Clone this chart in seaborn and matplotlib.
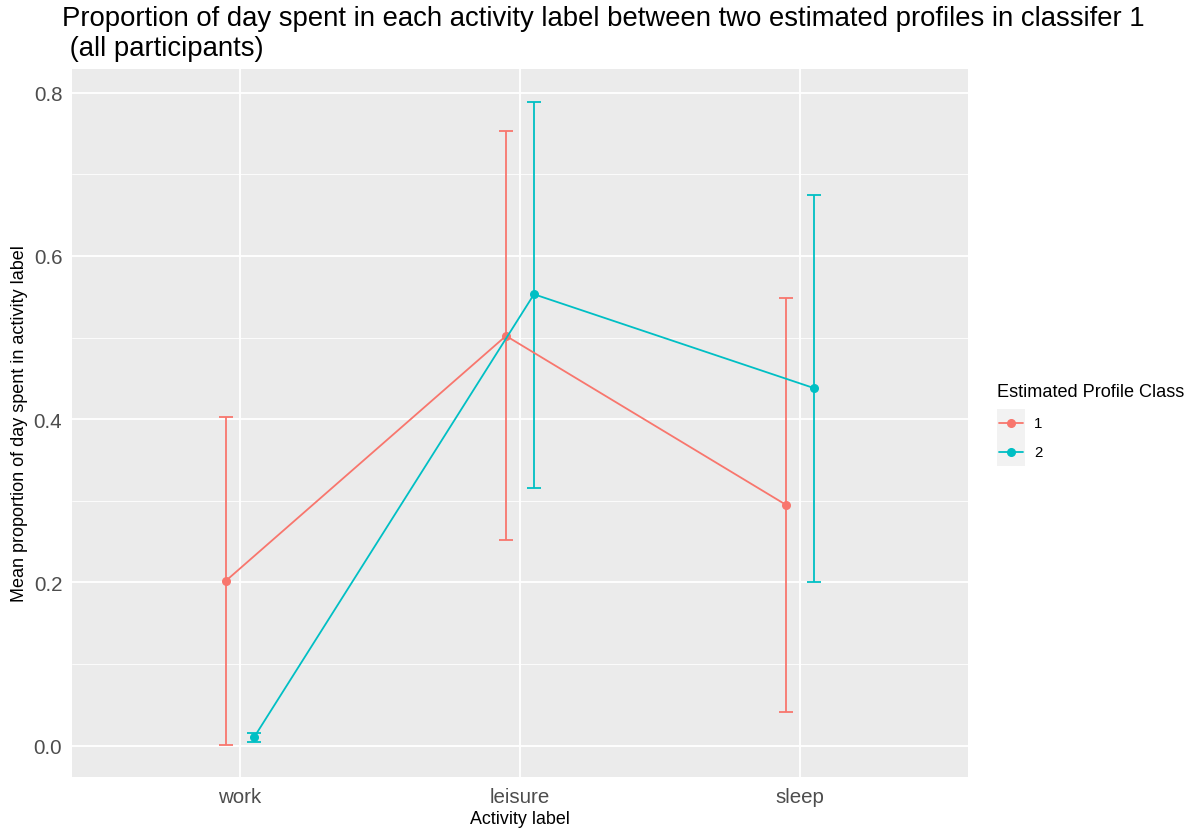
import numpy as np
import pandas as pd
import matplotlib
matplotlib.use("Agg")
import matplotlib.pyplot as plt
from matplotlib.patches import Rectangle
from matplotlib.lines import Line2D
from matplotlib.ticker import MultipleLocator
import seaborn as sns

activities = ["work", "leisure", "sleep"]
classes = ["1", "2"]
mean_c1 = [0.202, 0.502, 0.295]
low_c1 = [0.001, 0.252, 0.041]
high_c1 = [0.403, 0.753, 0.549]
mean_c2 = [0.010, 0.553, 0.438]
low_c2 = [0.004, 0.316, 0.201]
high_c2 = [0.016, 0.789, 0.675]
colors = ["#F8766D", "#00BFC4"]

df = pd.DataFrame({
    "activity": activities * 2,
    "cls": ["1"] * 3 + ["2"] * 3,
    "mean": mean_c1 + mean_c2,
    "lo": low_c1 + low_c2,
    "hi": high_c1 + high_c2,
})

sns.set_theme(style="darkgrid")
plt.rcParams["font.family"] = ["Liberation Sans", "DejaVu Sans"]

fig = plt.figure(figsize=(11.94, 8.29), dpi=100)
ax = fig.add_axes([72 / 1194, 1 - 778 / 829, 896 / 1194, 708 / 829])
ax.set_facecolor("#EBEBEB")

sns.pointplot(data=df, x="activity", y="mean", hue="cls", order=activities,
              hue_order=classes, palette=colors, dodge=0.1, errorbar=None,
              markers="o", linestyles="-", markersize=5.5, linewidth=1.3,
              ax=ax, legend=False, zorder=3)

lines = [l for l in ax.lines if len(l.get_xdata()) == 3]
for line, cls, col in zip(lines, classes, colors):
    sub = df[df["cls"] == cls]
    xs = np.asarray(line.get_xdata(), dtype=float)
    ax.errorbar(xs, sub["mean"].values,
                yerr=[sub["mean"].values - sub["lo"].values, sub["hi"].values - sub["mean"].values],
                fmt="none", ecolor=col, elinewidth=1.3, capsize=5, capthick=1.3, zorder=2)

ax.set_xlim(-0.6, 2.6)
ax.set_ylim(-0.0385, 0.829)
ax.yaxis.set_major_locator(MultipleLocator(0.2))
ax.yaxis.set_minor_locator(MultipleLocator(0.1))
ax.set_yticks([0.0, 0.2, 0.4, 0.6, 0.8])
ax.set_yticklabels(["0.0", "0.2", "0.4", "0.6", "0.8"])
ax.grid(which="major", color="white", linewidth=1.3)
ax.grid(which="minor", axis="y", color="white", linewidth=0.6)
ax.set_axisbelow(True)
for s in ax.spines.values():
    s.set_visible(False)
ax.tick_params(axis="both", which="major", length=4, width=1, color="#333333",
               labelsize=14.8, labelcolor="#4D4D4D", pad=3)
ax.tick_params(axis="both", which="minor", length=0)
ax.set_xlabel("Activity label", fontsize=12.9, color="black", labelpad=3)
ax.set_ylabel("Mean proportion of day spent in activity label", fontsize=13, color="black", labelpad=4)

fig.text(62 / 1194, 1 - 6 / 829, "Proportion of day spent in each activity label between two estimated profiles in classifer 1\n (all participants)",
         fontsize=19.8, ha="left", va="top", linespacing=1.18, color="black")

# legend
fig.text(997 / 1194, 1 - 393 / 829, "Estimated Profile Class", fontsize=13.1, ha="left", va="center", color="black")
fig.patches.append(Rectangle((997 / 1194, 1 - 467 / 829), 28 / 1194, 57 / 829,
                             transform=fig.transFigure, facecolor="#F2F2F2", edgecolor="none"))
for i, (cls, col) in enumerate(zip(classes, colors)):
    yc = 1 - (424 + i * 29) / 829
    fig.lines.append(Line2D([999 / 1194, 1023 / 1194], [yc, yc], transform=fig.transFigure,
                            color=col, linewidth=1.3, marker=None))
    fig.lines.append(Line2D([1011 / 1194], [yc], transform=fig.transFigure,
                            color=col, marker="o", markersize=5.5, linestyle="none"))
    fig.text(1034 / 1194, yc, cls, fontsize=10.8, ha="left", va="center", color="black")

fig.savefig("out.png", dpi=100)
